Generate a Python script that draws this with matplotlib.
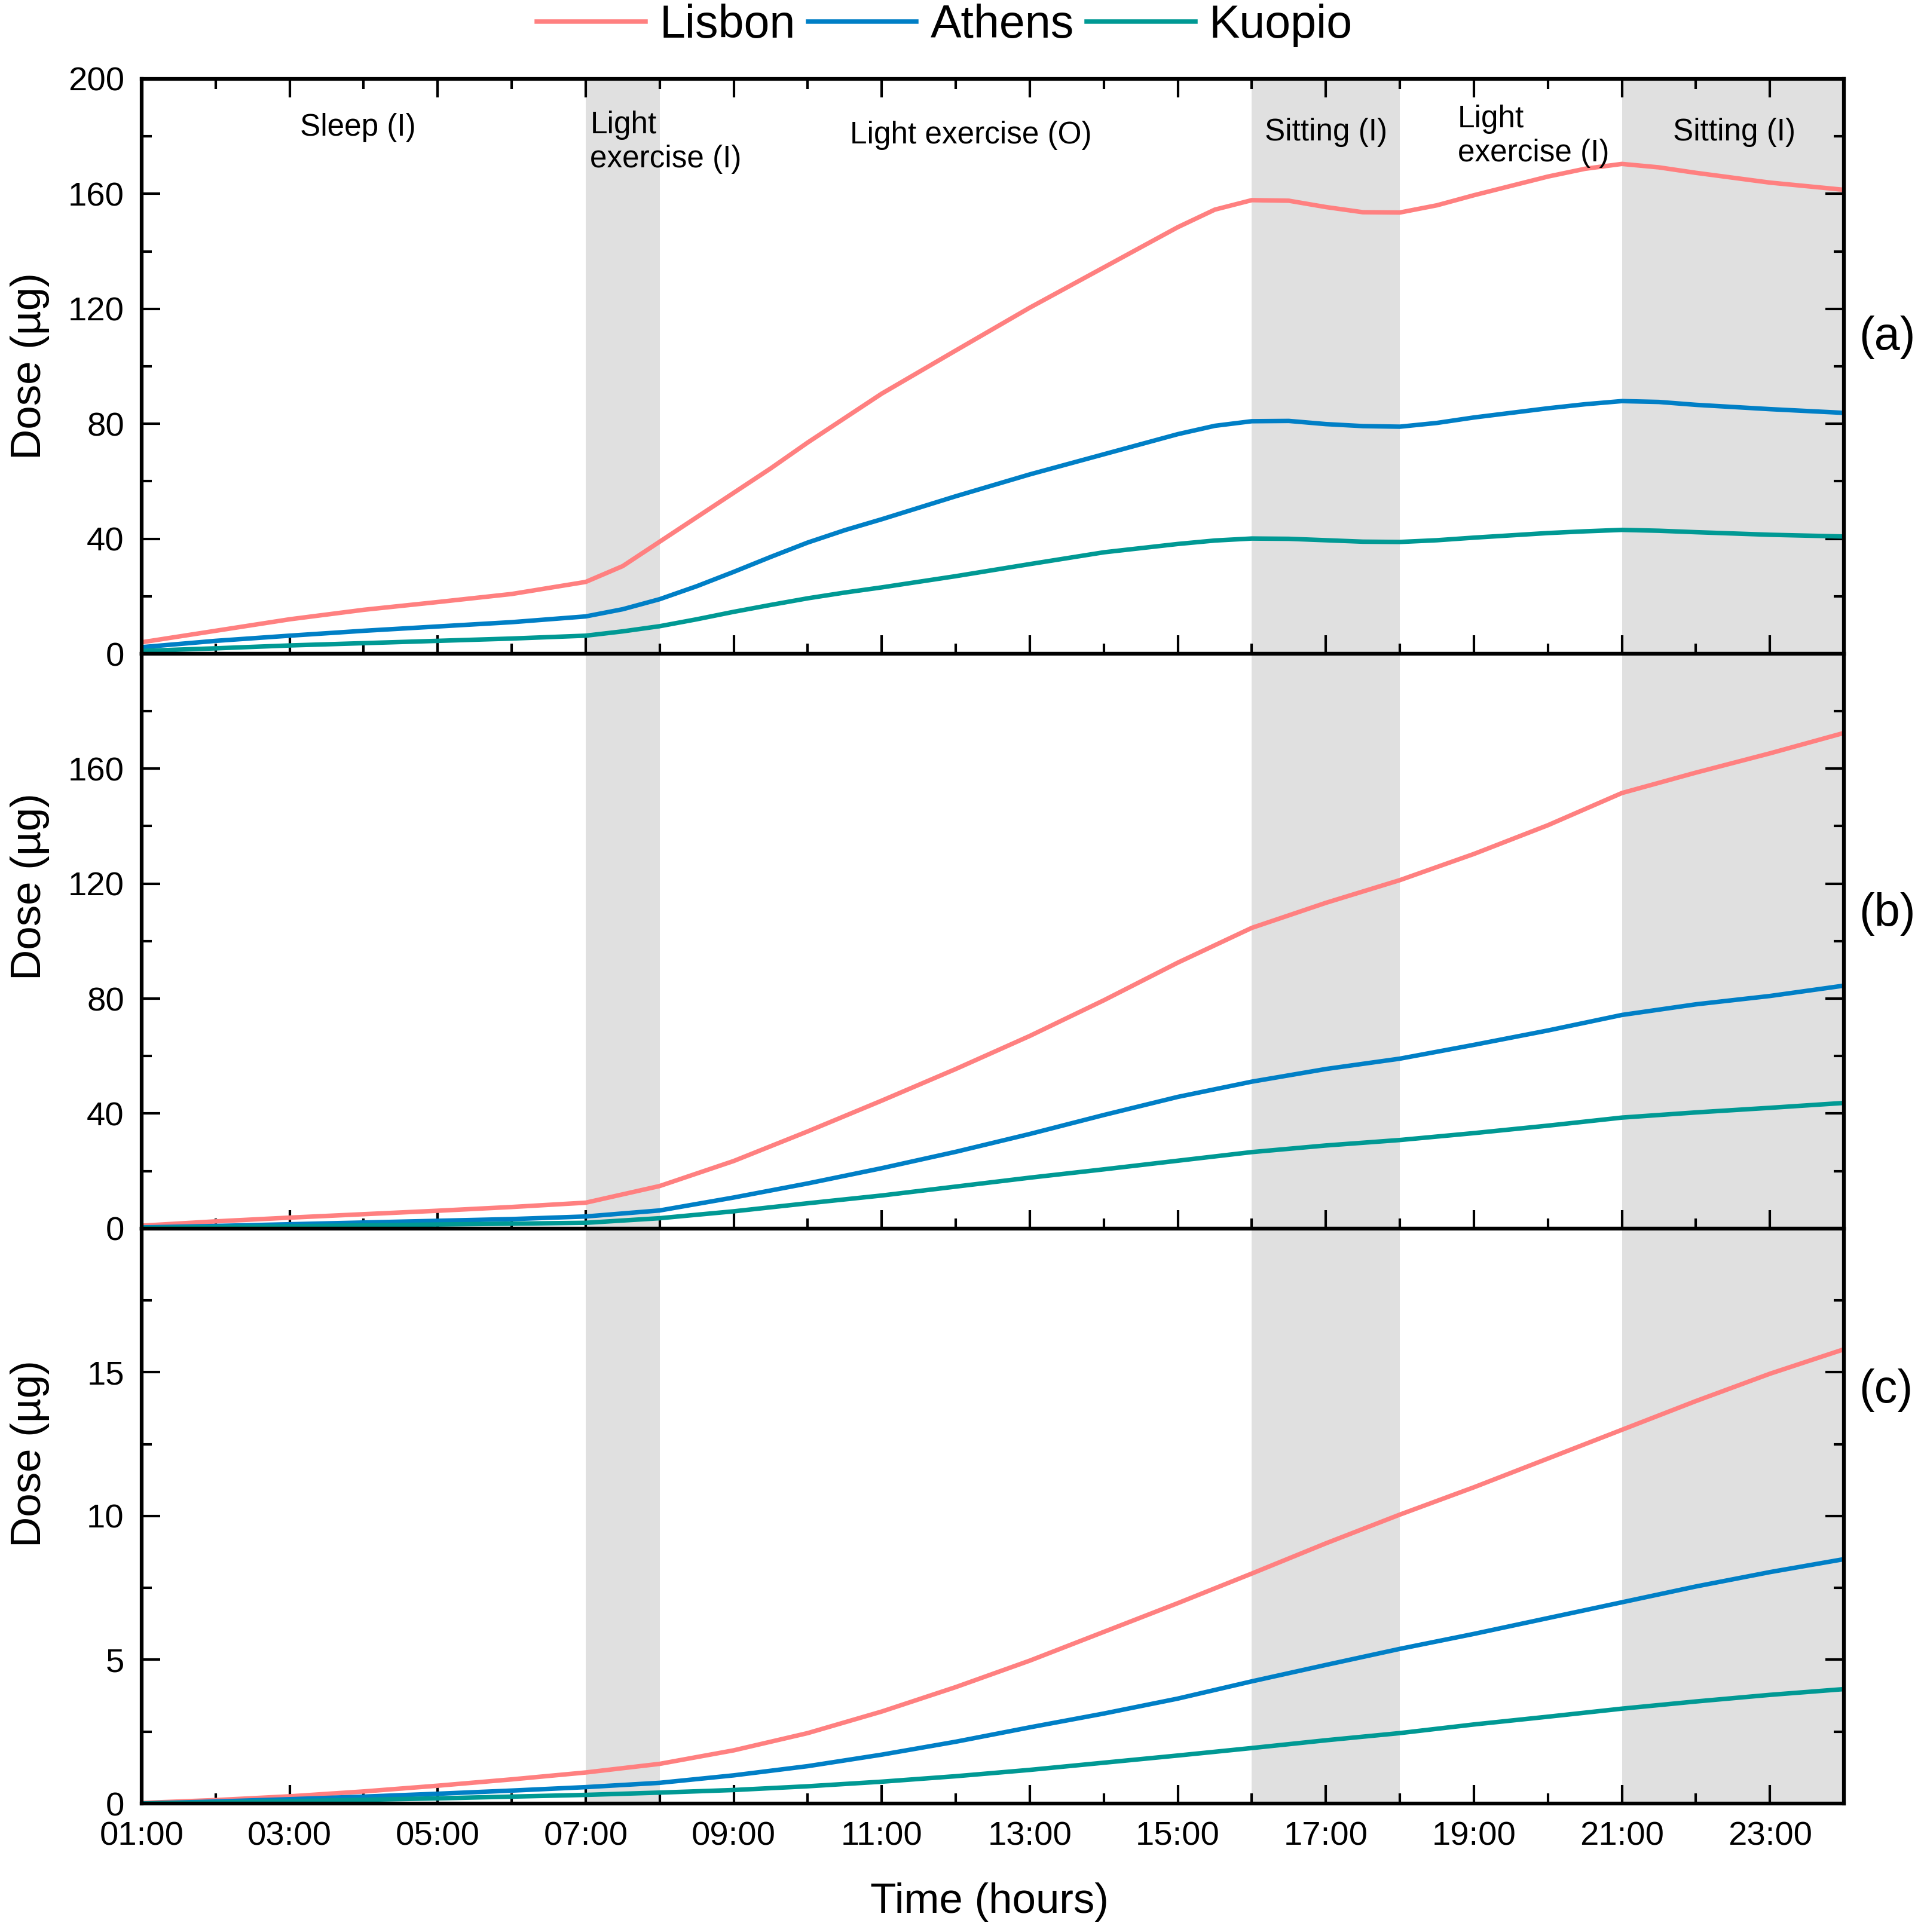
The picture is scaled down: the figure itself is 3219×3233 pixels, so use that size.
import matplotlib
matplotlib.use("Agg")
import matplotlib.pyplot as plt
from matplotlib.ticker import MultipleLocator, FixedLocator

plt.rcParams["font.family"] = ["Liberation Sans", "DejaVu Sans"]

# --- data ---
hours_a = [1, 2, 3, 4, 5, 6, 7, 7.5, 8, 8.5, 9, 9.5, 10, 10.5, 11, 12, 13, 14, 15,
           15.5, 16, 16.5, 17, 17.5, 18, 18.5, 19, 20, 20.5, 21, 21.5, 22, 23, 24]
lisbon_a = [4.0, 8.0, 12.0, 15.3, 18.0, 20.8, 25.0, 30.5, 39.0, 47.5, 56.0, 64.5, 73.5,
            82.0, 90.5, 105.5, 120.4, 134.4, 148.4, 154.5, 157.8, 157.6, 155.4, 153.6,
            153.5, 156.0, 159.5, 166.0, 168.7, 170.4, 169.2, 167.3, 163.9, 161.4]
athens_a = [2.3, 4.5, 6.3, 8.0, 9.5, 11.0, 13.0, 15.5, 19.0, 23.5, 28.5, 33.7, 38.7,
            43.0, 46.8, 54.8, 62.4, 69.4, 76.4, 79.3, 80.9, 81.0, 79.9, 79.2, 79.0,
            80.3, 82.2, 85.4, 86.8, 87.9, 87.6, 86.6, 85.1, 83.8]
kuopio_a = [1.0, 1.9, 2.9, 3.7, 4.5, 5.3, 6.3, 7.8, 9.6, 12.0, 14.6, 17.0, 19.3, 21.3,
            23.1, 27.0, 31.2, 35.3, 38.2, 39.4, 40.1, 40.0, 39.5, 39.0, 38.9, 39.5,
            40.4, 42.0, 42.6, 43.1, 42.8, 42.3, 41.4, 40.8]

hours = list(range(1, 25))
lisbon_b = [1.0, 2.5, 3.8, 5.0, 6.2, 7.5, 9.0, 14.8, 23.5, 33.8, 44.5, 55.5, 67.0, 79.4,
            92.5, 104.6, 113.3, 121.2, 130.3, 140.3, 151.5, 158.6, 165.3, 172.4]
athens_b = [0.4, 0.9, 1.5, 2.1, 2.7, 3.3, 4.2, 6.3, 10.8, 15.7, 21.0, 26.7, 32.9, 39.5,
            45.8, 51.1, 55.5, 59.1, 63.9, 68.9, 74.3, 78.0, 80.9, 84.5]
kuopio_b = [0.2, 0.5, 0.8, 1.1, 1.4, 1.7, 2.0, 3.6, 6.0, 8.8, 11.5, 14.6, 17.7, 20.6,
            23.6, 26.6, 28.9, 30.8, 33.2, 35.8, 38.6, 40.4, 42.0, 43.7]

lisbon_c = [0.02, 0.12, 0.25, 0.42, 0.62, 0.84, 1.08, 1.38, 1.85, 2.45, 3.2, 4.05, 4.97,
            5.97, 6.97, 8.0, 9.05, 10.05, 11.0, 12.0, 13.0, 14.0, 14.95, 15.8]
athens_c = [0.0, 0.07, 0.15, 0.24, 0.34, 0.45, 0.57, 0.72, 0.98, 1.3, 1.7, 2.15, 2.65,
            3.13, 3.65, 4.25, 4.82, 5.38, 5.9, 6.45, 7.0, 7.55, 8.05, 8.5]
kuopio_c = [0.0, 0.04, 0.08, 0.13, 0.18, 0.24, 0.3, 0.38, 0.47, 0.6, 0.76, 0.95, 1.17,
            1.42, 1.67, 1.93, 2.2, 2.45, 2.75, 3.02, 3.3, 3.55, 3.78, 3.98]

shaded = [(7, 8), (16, 18), (21, 24)]
activities = [
    (3.92, 183, "Sleep (I)", "center"),
    (7.06, 178, "Light\nexercise (I)", "left"),
    (12.2, 180.4, "Light exercise (O)", "center"),
    (17.0, 181.4, "Sitting (I)", "center"),
    (18.78, 180, "Light\nexercise (I)", "left"),
    (22.52, 181.4, "Sitting (I)", "center"),
]

colors = {"Lisbon": "#FF8080", "Athens": "#007FC6", "Kuopio": "#009994"}

# --- figure ---
fig = plt.figure(figsize=(3219 / 300, 3233 / 300), dpi=300, facecolor="white")
left, width, height = 0.0736, 0.8848, 0.2976
bottoms = [0.6616, 0.3641, 0.0665]

panels = [
    (hours_a, lisbon_a, athens_a, kuopio_a, 200, [0, 40, 80, 120, 160, 200], 20, "(a)", 0.55, 0.5),
    (hours, lisbon_b, athens_b, kuopio_b, 200, [0, 40, 80, 120, 160], 20, "(b)", 0.547, 0.595),
    (hours, lisbon_c, athens_c, kuopio_c, 20, [0, 5, 10, 15], 2.5, "(c)", 0.719, 0.608),
]

axes = []
for i, (xs, lis, ath, kuo, ymax, yt, ymin_step, tag, tag_y, lab_y) in enumerate(panels):
    ax = fig.add_axes([left, bottoms[i], width, height])
    axes.append(ax)
    for s0, s1 in shaded:
        ax.axvspan(s0, s1, color="#E0E0E0", lw=0, zorder=0)
    ax.plot(xs, lis, color=colors["Lisbon"], lw=1.8, label="Lisbon", zorder=3)
    ax.plot(xs, ath, color=colors["Athens"], lw=1.8, label="Athens", zorder=3)
    ax.plot(xs, kuo, color=colors["Kuopio"], lw=1.8, label="Kuopio", zorder=3)

    ax.set_xlim(1, 24)
    ax.set_ylim(0, ymax)
    ax.xaxis.set_major_locator(FixedLocator(list(range(1, 24, 2))))
    ax.xaxis.set_minor_locator(FixedLocator(list(range(2, 25, 2))))
    ax.yaxis.set_major_locator(FixedLocator(yt))
    ax.yaxis.set_minor_locator(MultipleLocator(ymin_step))
    ax.tick_params(which="both", direction="in", top=(i == 0), right=True,
                   width=1.0, labelsize=13.5, pad=7)
    ax.tick_params(which="major", length=7.5)
    ax.tick_params(which="minor", length=4)
    for sp in ax.spines.values():
        sp.set_linewidth(1.5)
        sp.set_zorder(5)

    if i < 2:
        ax.set_xticklabels([])
    else:
        ax.set_xticklabels([f"{h:02d}:00" for h in range(1, 24, 2)])
        ax.set_xlabel("Time (hours)", fontsize=17)
        ax.xaxis.set_label_coords(0.498, -0.137)

    ax.set_ylabel("Dose (µg)", fontsize=17)
    ax.yaxis.set_label_coords(-0.054, lab_y)
    ax.text(1.009, tag_y, tag, transform=ax.transAxes, fontsize=18.5,
            ha="left", va="center")

# activity labels in the top panel
for x, y, txt, ha in activities:
    axes[0].text(x, y, txt, fontsize=12.3, ha=ha, va="center", linespacing=1.2, zorder=4)

handles, labels = axes[0].get_legend_handles_labels()
fig.legend(handles, labels, loc="center", bbox_to_anchor=(0.491, 0.987), ncol=3,
           frameon=False, fontsize=18.5, handlelength=2.36, handletextpad=0.3,
           columnspacing=0.27, borderpad=0)

fig.savefig("out.png", dpi=300)
